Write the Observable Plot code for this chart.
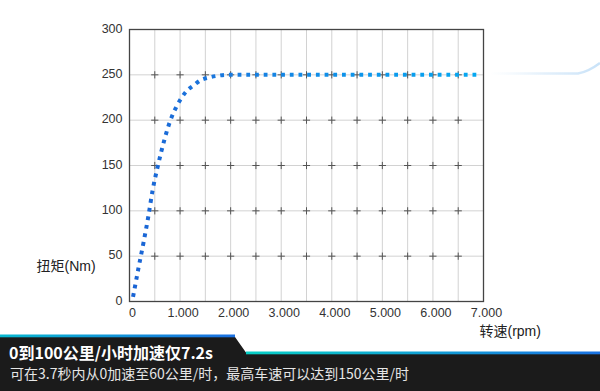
<!DOCTYPE html>
<html>
<head>
<meta charset="utf-8">
<script src="https://cdn.jsdelivr.net/npm/d3@7"></script>
<script src="https://cdn.jsdelivr.net/npm/@observablehq/plot@0.6"></script>
<style>
  html, body { margin: 0; padding: 0; background: #fff; }
  #wrap { position: relative; width: 600px; height: 391px; overflow: hidden; font-family: "Liberation Sans", "Noto Sans CJK SC", sans-serif; }
  #chart { position: absolute; left: 0; top: 0; }
  #deco { position: absolute; left: 0; top: 0; }
  #banner { position: absolute; left: 0; top: 330px; }
</style>
</head>
<body>
<div id="wrap">
  <div id="chart"></div>
  <svg id="deco" width="600" height="120">
    <defs>
      <linearGradient id="swoosh" x1="490" x2="600" y1="0" y2="0" gradientUnits="userSpaceOnUse">
        <stop offset="0" stop-color="#e2f0fb" stop-opacity="0"/>
        <stop offset="0.5" stop-color="#dcecfa" stop-opacity="0.8"/>
        <stop offset="1" stop-color="#c8e2f8" stop-opacity="1"/>
      </linearGradient>
    </defs>
    <path d="M490,73.5 L578,73.5 Q588,72 600,63" fill="none" stroke="url(#swoosh)" stroke-width="2.5"/>
  </svg>
  <svg id="banner" width="600" height="61">
    <defs>
      <linearGradient id="stripeL" x1="0" x2="235" y1="0" y2="0" gradientUnits="userSpaceOnUse">
        <stop offset="0" stop-color="#08b8d0"/>
        <stop offset="1" stop-color="#1a6fe0"/>
      </linearGradient>
      <linearGradient id="stripeR" x1="247" x2="600" y1="0" y2="0" gradientUnits="userSpaceOnUse">
        <stop offset="0" stop-color="#07cfc6"/>
        <stop offset="1" stop-color="#1a72e2"/>
      </linearGradient>
    </defs>
    <polygon points="0,7 235,7 247,24 600,24 600,61 0,61" fill="#1b1b1b"/>
    <rect x="0" y="4.5" width="235" height="2.8" fill="url(#stripeL)"/>
    <rect x="246" y="21.5" width="354" height="2.8" fill="url(#stripeR)"/>
    <text x="9" y="29" fill="#ffffff" font-family="'Noto Sans CJK SC', sans-serif" font-weight="bold" font-size="16">0到100公里/小时加速仅7.2s</text>
    <text x="10" y="48.5" fill="#e6e6e6" font-family="'Noto Sans CJK SC', sans-serif" font-size="14">可在3.7秒内从0加速至60公里/时，最高车速可以达到150公里/时</text>
  </svg>
</div>
<script>
// ---- data ----
const rpm    = [70, 178, 277, 370, 455, 567, 698, 797, 929, 1022, 1127, 1259, 1404, 1568, 1746, 1918, 2500, 3500, 4500, 5500, 6500, 6860];
const torque = [5,  37,  65,  93, 122, 151, 180, 198, 215,  224,  232,  238,  244,  247,  249,  250,  250,  250,  250,  250,  250,  250];
const xTicks      = [0, 1000, 2000, 3000, 4000, 5000, 6000, 7000];
const xTickLabels = ["0", "1.000", "2.000", "3.000", "4.000", "5.000", "6.000", "7.000"];
const yTicks      = [0, 50, 100, 150, 200, 250, 300];
const gridX = [500, 1000, 1500, 2000, 2500, 3000, 3500, 4000, 4500, 5000, 5500, 6000, 6500];
const gridY = [50, 100, 150, 200, 250];
const yLabel = "扭矩(Nm)";
const xLabel = "转速(rpm)";

const curve = rpm.map((r, i) => ({rpm: r, torque: torque[i]}));
const crosses = gridX.flatMap(x => gridY.map(y => ({x, y})));
const crossSymbol = {
  draw(ctx, size) {
    const r = Math.sqrt(size / Math.PI);
    ctx.moveTo(-r, 0); ctx.lineTo(r, 0);
    ctx.moveTo(0, -r); ctx.lineTo(0, r);
  }
};

const chart = Plot.plot({
  width: 600,
  height: 345,
  marginLeft: 129,
  marginRight: 117,
  marginTop: 29,
  marginBottom: 44,
  style: {fontFamily: "'Liberation Sans', 'Noto Sans CJK SC', sans-serif", background: "transparent"},
  x: {domain: [0, 7000]},
  y: {domain: [0, 300]},
  marks: [
    Plot.ruleX(gridX, {stroke: "#d2d2d2", strokeWidth: 1}),
    Plot.ruleY(gridY, {stroke: "#d2d2d2", strokeWidth: 1}),
    Plot.dot(crosses, {x: "x", y: "y", symbol: crossSymbol, r: 3.6, stroke: "#555", strokeWidth: 1, fill: "none"}),
    Plot.line(curve, {x: "rpm", y: "torque", curve: "monotone-x", stroke: "url(#torqueGrad)", strokeWidth: 4, strokeDasharray: "3.8,4.9", strokeLinecap: "butt"}),
    Plot.frame({stroke: "#444", strokeWidth: 1.3}),
    Plot.axisY(yTicks, {tickSize: 0, tickPadding: 7, fontSize: 12.5, fill: "#333", dy: -1, label: null}),
    Plot.axisX(xTicks, {tickSize: 0, tickPadding: 7, fontSize: 12.5, fill: "#333", dx: 3, label: null,
      tickFormat: d => xTickLabels[xTicks.indexOf(d)]}),
    Plot.text([yLabel], {frameAnchor: "bottom-left", textAnchor: "start", lineAnchor: "middle", dx: -93, dy: -35, fontSize: 14, fill: "#222"}),
    Plot.text([xLabel], {frameAnchor: "bottom-right", textAnchor: "start", lineAnchor: "middle", dx: -4, dy: 30, fontSize: 14, fill: "#222"})
  ]
});

const ns = "http://www.w3.org/2000/svg";
const defs = document.createElementNS(ns, "defs");
const grad = document.createElementNS(ns, "linearGradient");
grad.setAttribute("id", "torqueGrad");
grad.setAttribute("x1", "0"); grad.setAttribute("x2", "1");
grad.setAttribute("y1", "0"); grad.setAttribute("y2", "0");
[["0", "#1a64d4"], ["0.25", "#1a78de"], ["0.6", "#0e92ea"], ["1", "#05a8f2"]].forEach(([o, c]) => {
  const s = document.createElementNS(ns, "stop");
  s.setAttribute("offset", o); s.setAttribute("stop-color", c);
  grad.appendChild(s);
});
defs.appendChild(grad);
chart.insertBefore(defs, chart.firstChild);
document.getElementById("chart").appendChild(chart);
</script>
</body>
</html>
